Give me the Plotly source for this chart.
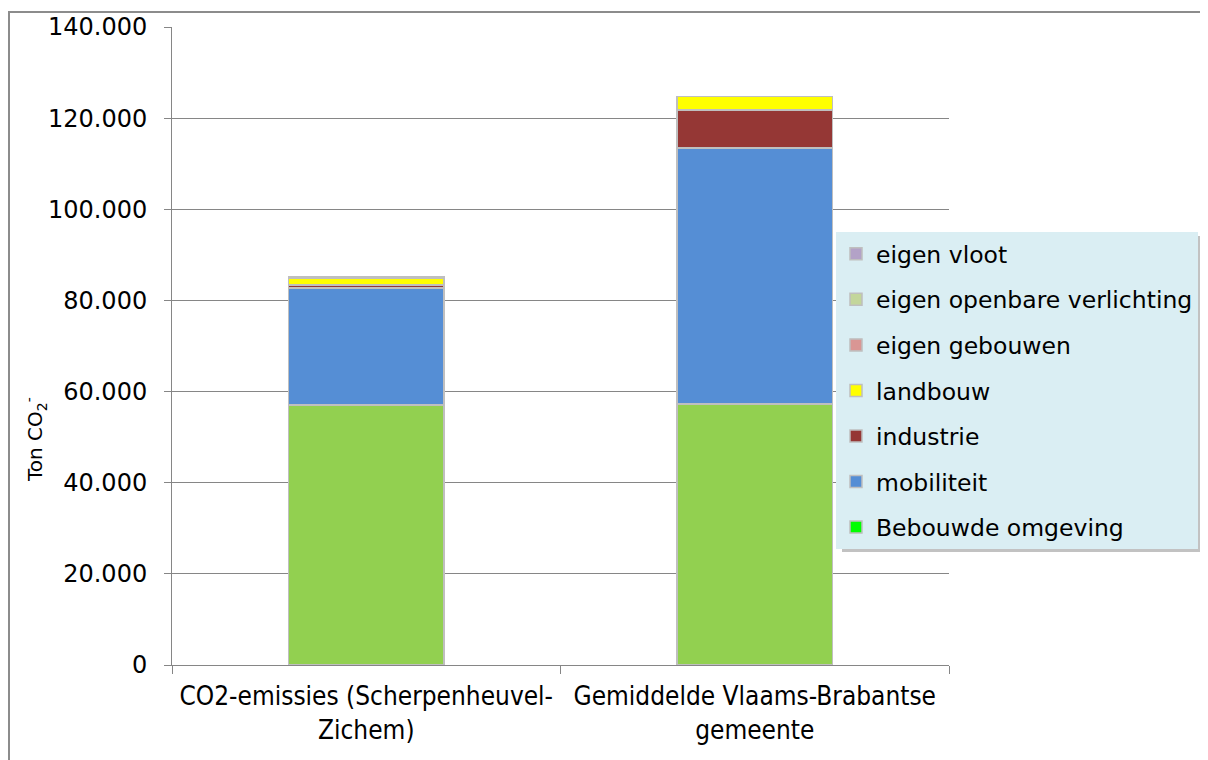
import plotly.graph_objects as go

categories = ["CO2-emissies (Scherpenheuvel-<br>Zichem)", "Gemiddelde Vlaams-Brabantse<br>gemeente"]
series_names = ["Bebouwde omgeving", "mobiliteit", "industrie", "landbouw",
                "eigen gebouwen", "eigen openbare verlichting", "eigen vloot"]
bebouwde = [57000, 57300]
mobiliteit = [25700, 56100]
industrie = [700, 8400]
landbouw = [1400, 3000]
eigen_gebouwen = [300, 0]
eigen_verlichting = [100, 0]
eigen_vloot = [50, 0]
values = [bebouwde, mobiliteit, industrie, landbouw, eigen_gebouwen, eigen_verlichting, eigen_vloot]
bar_colors = ["#92D050", "#558ED5", "#953735", "#FFFF00", "#D99694", "#C3D69B", "#B3A2C7"]
legend_colors = ["#00FF00", "#558ED5", "#953735", "#FFFF00", "#D99694", "#C3D69B", "#B3A2C7"]

OFF = 8  # page body margin
W, H = 1208 - OFF, 760 - OFF
PL, PR, PT, PB = 172, 949, 27, 665
L, R, T, B = PL - OFF, PR - OFF, PT - OFF, PB - OFF

n = len(series_names)
fig = go.Figure()
for i, (name, vals) in enumerate(zip(series_names, values)):
    rank = n - i
    if i == 0:
        fig.add_trace(go.Bar(x=categories, y=[None, None], name=name,
                             marker=dict(color=legend_colors[i], line=dict(color="#BFBFBF", width=1.5)),
                             legendgroup=name, legendrank=rank, showlegend=True, hoverinfo="skip"))
        fig.add_trace(go.Bar(x=categories, y=vals, name=name,
                             marker=dict(color=bar_colors[i], line=dict(color="#BFBFBF", width=1.5)),
                             legendgroup=name, legendrank=rank, showlegend=False))
    else:
        fig.add_trace(go.Bar(x=categories, y=vals, name=name,
                             marker=dict(color=bar_colors[i], line=dict(color="#BFBFBF", width=1.5)),
                             legendgroup=name, legendrank=rank))

def px_x(x):
    return (x - PL) / (PR - PL)

def px_y(y):
    return 1 - (y - PT) / (PB - PT)

fig.update_layout(
    width=W, height=H,
    barmode="stack", bargap=0.6,
    separators=",.",
    paper_bgcolor="white", plot_bgcolor="white",
    margin=dict(l=L, r=W - R, t=T, b=H - B, autoexpand=False),
    font=dict(family="DejaVu Sans, Verdana, sans-serif", size=20, color="black"),
    xaxis=dict(
        type="category", tickson="boundaries", range=[-0.5, 1.5],
        showgrid=False, showline=True, linecolor="#868686", linewidth=1,
        ticks="outside", ticklen=8, tickcolor="#868686",
        ticklabelstandoff=8,
        tickfont=dict(family="DejaVu Sans Condensed, DejaVu Sans, sans-serif", size=26),
    ),
    yaxis=dict(
        range=[0, 140000], dtick=20000, tickformat=",d",
        showgrid=True, gridcolor="#868686", gridwidth=1,
        showline=True, linecolor="#868686", linewidth=1,
        ticks="outside", ticklen=7, tickcolor="#868686",
        ticklabelstandoff=12,
        tickfont=dict(size=24), zeroline=False,
    ),
    legend=dict(
        x=px_x(836), y=px_y(232), xanchor="left", yanchor="top",
        bgcolor="#DAEEF3", traceorder="grouped", tracegroupgap=12,
        font=dict(size=23.5), borderwidth=0,
    ),
    showlegend=True,
    annotations=[dict(
        text="Ton CO<sub>2</sub><sup>-</sup>", textangle=-90,
        xref="paper", yref="paper", x=px_x(35), y=px_y(440),
        xanchor="center", yanchor="middle", showarrow=False,
        font=dict(size=20),
    )],
    shapes=[
        dict(type="rect", xref="paper", yref="paper",
             x0=px_x(9), x1=px_x(1260), y0=px_y(800), y1=px_y(12),
             line=dict(color="#8C8C8C", width=2), fillcolor="rgba(0,0,0,0)", layer="below"),
        dict(type="rect", xref="paper", yref="paper",
             x0=px_x(842), x1=px_x(1207), y0=px_y(552), y1=px_y(236),
             line=dict(width=0), fillcolor="rgba(120,120,120,0.45)", layer="above"),
    ],
)

fig.write_html("out.html")
